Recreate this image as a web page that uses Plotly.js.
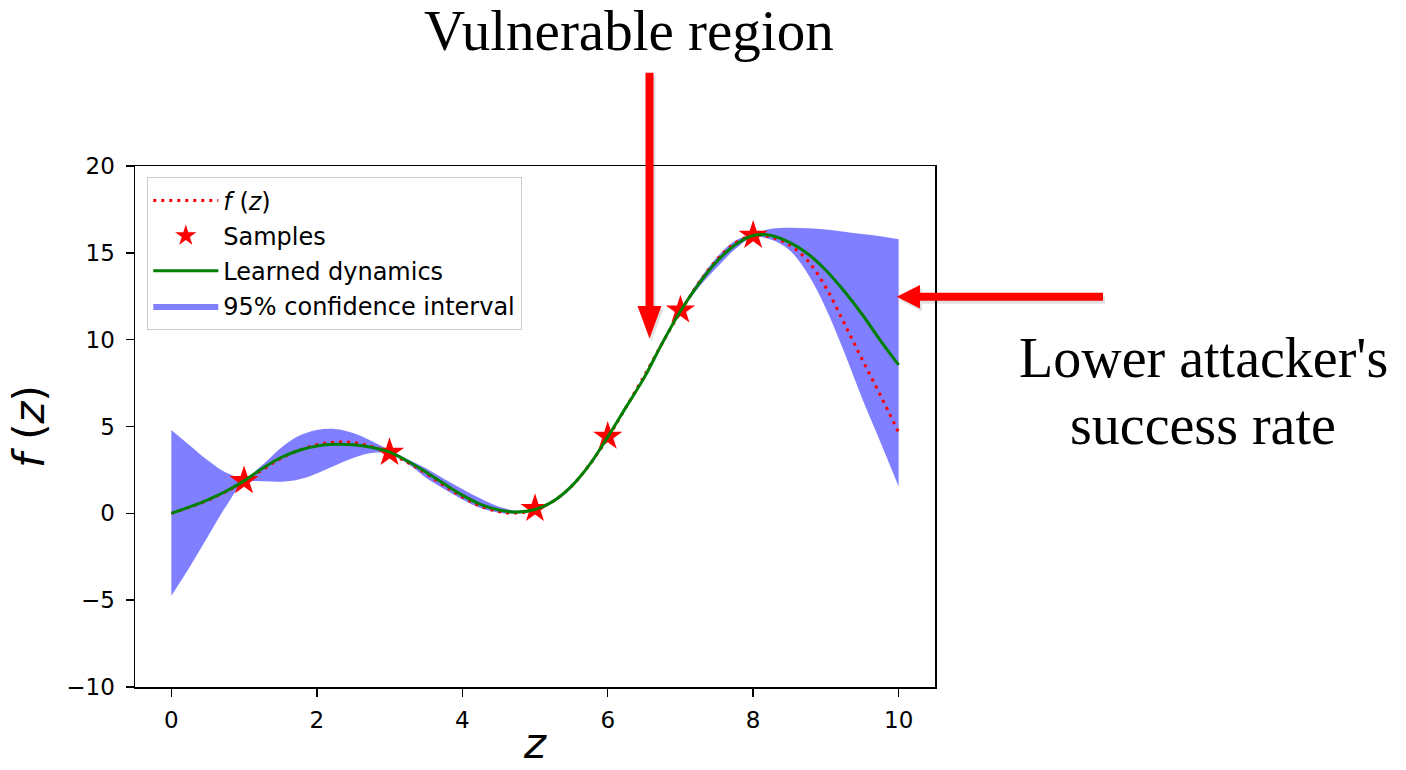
<!DOCTYPE html>
<html>
<head>
<meta charset="utf-8">
<script src="https://cdn.plot.ly/plotly-3.0.1.min.js"></script>
<style>html,body{margin:0;padding:0;background:#fff;}#chart{width:1406px;height:770px;}</style>
</head>
<body>
<div id="chart"></div>
<script>
// ---- data ----
const zGrid = [0,0.25,0.5,0.75,1,1.25,1.5,1.75,2,2.25,2.5,2.75,3,3.25,3.5,3.75,4,4.25,4.5,4.75,5,5.25,5.5,5.75,6,6.25,6.5,6.75,7,7.25,7.5,7.75,8,8.25,8.5,8.75,9,9.25,9.5,9.75,10];
const trueF = [0,0.35,0.75,1.25,1.8,2.5,3.15,3.62,3.95,4.1,4.08,3.85,3.45,2.92,2.3,1.6,0.95,0.42,0.1,0.02,0.2,0.7,1.55,2.8,4.35,6.1,7.9,9.8,11.6,13.25,14.6,15.55,16.0,15.9,15.45,14.55,13.0,10.95,8.85,6.8,4.65];
const learnedMean = [0,0.37,0.78,1.27,1.87,2.58,3.2,3.62,3.88,3.98,3.95,3.8,3.52,3.0,2.38,1.7,1.05,0.52,0.2,0.07,0.22,0.7,1.55,2.8,4.4,6.1,7.8,9.8,11.65,13.2,14.5,15.45,16.0,16.0,15.6,14.95,14.0,12.8,11.45,9.95,8.55];
const ciUpper = [4.8,3.92,3.05,2.35,2.05,2.78,3.75,4.45,4.8,4.86,4.62,4.17,3.65,3.12,2.6,1.98,1.4,0.85,0.4,0.15,0.27,0.78,1.62,2.88,4.47,6.2,7.95,9.95,11.72,13.4,14.75,15.7,16.1,16.38,16.45,16.42,16.35,16.22,16.08,15.95,15.78];
const ciLower = [-4.74,-3.1,-1.35,0.4,1.75,1.85,1.82,1.95,2.3,2.75,3.18,3.47,3.42,2.85,2.05,1.4,0.8,0.3,0.03,-0.02,0.15,0.6,1.45,2.7,4.3,6.0,7.7,9.65,11.55,13.0,14.15,15.2,15.9,15.75,15.15,13.8,11.8,9.3,6.6,4.1,1.55];
const sampleZ = [1,3,5,6,7,8];
const sampleF = [1.87,3.5,0.27,4.43,11.7,16.0];
const xTicks = [0,2,4,6,8,10];
const yTicks = [-10,-5,0,5,10,15,20];
const seriesNames = ['<i>f</i> (<i>z</i>)','Samples','Learned dynamics','95% confidence interval'];
const xTitle = '<i>z</i>';
const yTitle = '<i>f</i> (<i>z</i>)';

// ---- geometry helpers (plot area in pixels) ----
const W = 1406, H = 770;
const PL = 135, PR = 935, PT = 166, PB = 687;
const px2x = p => (p - PL) / (PR - PL);
const px2y = p => (PB - p) / (PB - PT);
function polyPath(pts, dx, dy) {
  return pts.map((p, i) => (i ? 'L' : 'M') + px2x(p[0] + (dx||0)).toFixed(5) + ',' + px2y(p[1] + (dy||0)).toFixed(5)).join(' ') + ' Z';
}
// arrow outlines (decoration, pixel geometry)
const downArrow = [[645.5,72.7],[653.5,72.7],[653.5,306],[661.5,306],[649.5,338.5],[637.5,306],[645.5,306]];
const leftArrow = [[1103,292.7],[1103,300.7],[920,300.7],[920,308.5],[896.7,296.7],[920,285],[920,292.7]];

const traces = [
  {x: zGrid, y: ciLower, type: 'scatter', mode: 'lines',
   line: {width: 0, color: 'rgba(0,0,255,0)', shape: 'spline'},
   showlegend: false, legendgroup: 'g4', hoverinfo: 'skip'},
  {x: zGrid, y: ciUpper, type: 'scatter', mode: 'lines', fill: 'tonexty',
   fillcolor: 'rgba(0,0,255,0.5)', line: {width: 0, color: 'rgba(0,0,255,0.5)', shape: 'spline'},
   name: seriesNames[3], legendrank: 4, legendgroup: 'g4', hoverinfo: 'skip'},
  {x: zGrid, y: trueF, type: 'scatter', mode: 'lines', line: {color: '#ff0000', width: 3, dash: '3px,5px', shape: 'spline'},
   name: seriesNames[0], legendrank: 1, legendgroup: 'g1'},
  {x: sampleZ, y: sampleF, type: 'scatter', mode: 'markers',
   marker: {symbol: 'star', size: 22, color: '#ff0000', line: {width: 0}},
   name: seriesNames[1], legendrank: 2, legendgroup: 'g2'},
  {x: zGrid, y: learnedMean, type: 'scatter', mode: 'lines', line: {color: '#008000', width: 3, shape: 'spline'},
   name: seriesNames[2], legendrank: 3, legendgroup: 'g3'}
];

const axisCommon = {
  showline: true, mirror: true, linecolor: '#000', linewidth: 1.5,
  ticks: 'outside', ticklen: 8, tickwidth: 1.5, tickcolor: '#000',
  showgrid: false, zeroline: false,
  tickfont: {family: 'DejaVu Sans', size: 23, color: '#000'}
};

const layout = {
  width: W, height: H,
  margin: {l: PL, r: W - PR, t: PT, b: H - PB, pad: 0},
  paper_bgcolor: '#fff', plot_bgcolor: '#fff',
  showlegend: true,
  xaxis: Object.assign({}, axisCommon, {
    range: [-0.5, 10.5], tickvals: xTicks, ticklabelstandoff: 4
  }),
  yaxis: Object.assign({}, axisCommon, {
    range: [-10, 20], tickvals: yTicks, ticklabelstandoff: 6,
    title: {text: yTitle, font: {family: 'DejaVu Sans', size: 42, color: '#000'}, standoff: 8}
  }),
  legend: {
    x: px2x(147), y: px2y(177), xanchor: 'left', yanchor: 'top',
    bgcolor: 'rgba(255,255,255,0.8)', bordercolor: '#cccccc', borderwidth: 1.3,
    font: {family: 'DejaVu Sans', size: 24, color: '#000'},
    traceorder: 'grouped', tracegroupgap: 1, itemwidth: 65
  },
  shapes: [
    {type: 'path', xref: 'paper', yref: 'paper', path: polyPath(downArrow, 2, 3), fillcolor: 'rgba(0,0,0,0.12)', line: {width: 0}, layer: 'above'},
    {type: 'path', xref: 'paper', yref: 'paper', path: polyPath(leftArrow, 2, 3), fillcolor: 'rgba(0,0,0,0.12)', line: {width: 0}, layer: 'above'},
    {type: 'path', xref: 'paper', yref: 'paper', path: polyPath(downArrow), fillcolor: '#ff0000', line: {width: 0}, layer: 'above'},
    {type: 'path', xref: 'paper', yref: 'paper', path: polyPath(leftArrow), fillcolor: '#ff0000', line: {width: 0}, layer: 'above'}
  ],
  annotations: [
    {text: xTitle, xref: 'paper', yref: 'paper', x: px2x(535), y: px2y(769), xanchor: 'center', yanchor: 'bottom',
     showarrow: false, borderpad: 0, font: {family: 'DejaVu Sans', size: 42, color: '#000'}},
    {text: 'Vulnerable region', xref: 'paper', yref: 'paper', x: px2x(629), y: px2y(31), xanchor: 'center', yanchor: 'middle',
     showarrow: false, font: {family: 'Liberation Serif', size: 57, color: '#000'}},
    {text: "Lower attacker's", xref: 'paper', yref: 'paper', x: px2x(1203), y: px2y(358), xanchor: 'center', yanchor: 'middle',
     showarrow: false, font: {family: 'Liberation Serif', size: 56, color: '#000'}},
    {text: 'success rate', xref: 'paper', yref: 'paper', x: px2x(1203), y: px2y(425), xanchor: 'center', yanchor: 'middle',
     showarrow: false, font: {family: 'Liberation Serif', size: 56, color: '#000'}}
  ]
};

Plotly.newPlot('chart', traces, layout, {displayModeBar: false, staticPlot: true});
</script>
</body>
</html>
